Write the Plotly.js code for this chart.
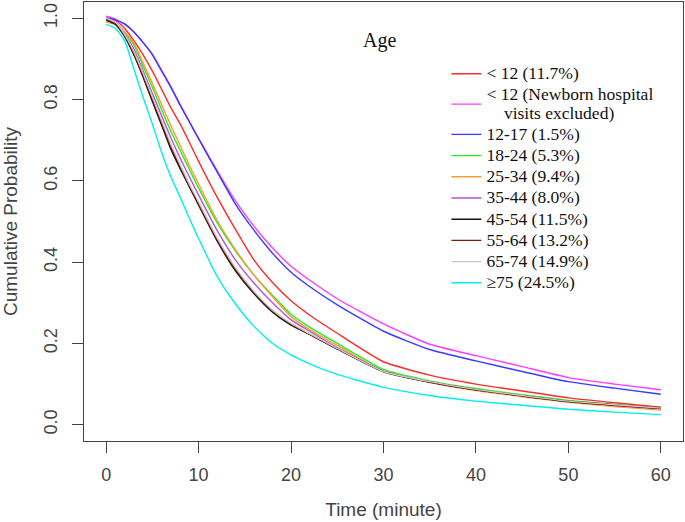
<!DOCTYPE html>
<html>
<head>
<meta charset="utf-8">
<script src="https://cdn.plot.ly/plotly-3.0.1.min.js"></script>
<style>
  html, body { margin: 0; padding: 0; background: #fff; }
  #chart { width: 685px; height: 522px; }
</style>
</head>
<body>
<div id="chart"></div>
<script>
const minutes = [0, 1, 2, 3, 4, 5, 6, 7, 8, 9, 10, 12, 14, 16, 18, 20, 22, 25, 30, 35, 40, 45, 50, 55, 60];

const under12 = [1.0, 0.995, 0.975, 0.945, 0.91, 0.87, 0.825, 0.78, 0.74, 0.695, 0.648, 0.56, 0.48, 0.405, 0.35, 0.305, 0.27, 0.225, 0.155, 0.122, 0.1, 0.083, 0.066, 0.054, 0.043];
const under12NoNewborn = [1.005, 0.998, 0.985, 0.966, 0.94, 0.912, 0.872, 0.832, 0.788, 0.746, 0.705, 0.625, 0.55, 0.488, 0.435, 0.39, 0.356, 0.31, 0.248, 0.198, 0.17, 0.143, 0.116, 0.1, 0.086];
const age12to17 = [1.0, 0.996, 0.986, 0.966, 0.94, 0.91, 0.87, 0.83, 0.786, 0.745, 0.703, 0.622, 0.542, 0.478, 0.422, 0.375, 0.34, 0.295, 0.23, 0.185, 0.157, 0.131, 0.106, 0.09, 0.075];
const age18to24 = [0.995, 0.99, 0.965, 0.935, 0.882, 0.83, 0.775, 0.722, 0.675, 0.628, 0.582, 0.497, 0.427, 0.368, 0.318, 0.272, 0.24, 0.2, 0.136, 0.108, 0.089, 0.074, 0.06, 0.05, 0.04];
const age25to34 = [0.99, 0.985, 0.966, 0.94, 0.89, 0.84, 0.787, 0.736, 0.687, 0.638, 0.592, 0.503, 0.43, 0.368, 0.315, 0.266, 0.234, 0.195, 0.131, 0.104, 0.084, 0.069, 0.055, 0.045, 0.036];
const age35to44 = [1.0, 0.99, 0.96, 0.925, 0.87, 0.815, 0.76, 0.706, 0.656, 0.61, 0.565, 0.478, 0.405, 0.348, 0.3, 0.258, 0.23, 0.19, 0.132, 0.105, 0.086, 0.071, 0.057, 0.048, 0.04];
const age45to54 = [0.995, 0.985, 0.955, 0.91, 0.855, 0.795, 0.737, 0.678, 0.63, 0.585, 0.54, 0.452, 0.378, 0.322, 0.277, 0.245, 0.222, 0.186, 0.13, 0.105, 0.086, 0.071, 0.057, 0.048, 0.04];
const age55to64 = [0.998, 0.987, 0.957, 0.913, 0.858, 0.8, 0.742, 0.684, 0.635, 0.588, 0.543, 0.455, 0.382, 0.325, 0.28, 0.248, 0.223, 0.187, 0.131, 0.105, 0.086, 0.071, 0.058, 0.049, 0.041];
const age65to74 = [1.0, 0.99, 0.96, 0.918, 0.864, 0.806, 0.748, 0.69, 0.64, 0.592, 0.548, 0.46, 0.386, 0.328, 0.282, 0.249, 0.224, 0.188, 0.131, 0.106, 0.087, 0.072, 0.058, 0.049, 0.041];
const age75plus = [0.985, 0.975, 0.945, 0.875, 0.805, 0.74, 0.67, 0.61, 0.56, 0.508, 0.458, 0.365, 0.297, 0.242, 0.2, 0.172, 0.15, 0.124, 0.092, 0.072, 0.058, 0.048, 0.038, 0.031, 0.025];

const groupNames = [
  "&lt; 12 (11.7%)",
  "&lt; 12 (Newborn hospital<br>\u00a0\u00a0\u00a0\u00a0visits excluded)",
  "12-17 (1.5%)",
  "18-24 (5.3%)",
  "25-34 (9.4%)",
  "35-44 (8.0%)",
  "45-54 (11.5%)",
  "55-64 (13.2%)",
  "65-74 (14.9%)",
  "\u226575 (24.5%)",
];
const groupValues = [under12, under12NoNewborn, age12to17, age18to24, age25to34, age35to44, age45to54, age55to64, age65to74, age75plus];
const groupColors = ["#ff2a2a", "#ff3cff", "#3a3aff", "#22ee22", "#ff9a33", "#b455d2", "#111111", "#7a1c12", "#c8c8c8", "#00f0f0"];

const xTicks = [0, 10, 20, 30, 40, 50, 60];
const yTicks = [0, 0.2, 0.4, 0.6, 0.8, 1.0];

function wrapLabel(name) {
  // bigger glyphs than the legend's own font, so rows stay tight like the original
  return name.split("<br>").map((s) => `<span style="font-size:17.5px">${s}</span>`).join("<br>");
}

const traces = groupValues.map((vals, i) => ({
  x: minutes,
  y: vals,
  type: "scatter",
  mode: "lines",
  name: wrapLabel(groupNames[i]),
  line: { color: groupColors[i], width: 1.4, shape: "spline", smoothing: 0.5 },
}));

const axisFont = { family: "Liberation Sans, Arial, sans-serif", size: 18, color: "#444" };

const layout = {
  width: 685,
  height: 522,
  margin: { l: 84, r: 2, t: 2, b: 81 },
  paper_bgcolor: "#fff",
  plot_bgcolor: "#fff",
  showlegend: true,
  legend: {
    x: 0.605, y: 0.872, xanchor: "left", yanchor: "top",
    bgcolor: "rgba(0,0,0,0)",
    font: { family: "Liberation Serif, Times New Roman, serif", size: 14, color: "#111" },
  },
  xaxis: {
    range: [-2.4, 62.4],
    tickvals: xTicks,
    ticktext: xTicks.map(String),
    ticks: "outside", ticklen: 11, tickcolor: "#444", tickwidth: 1,
    showline: true, mirror: true, linecolor: "#444", linewidth: 1,
    showgrid: false, zeroline: false,
    tickfont: axisFont,
    ticklabelstandoff: 6,
    title: { text: "Time (minute)", font: { ...axisFont, size: 19 }, standoff: 19 },
  },
  yaxis: {
    range: [-0.04, 1.04],
    tickvals: yTicks,
    ticktext: yTicks.map((v) => v.toFixed(1)),
    tickangle: -90,
    ticks: "outside", ticklen: 11, tickcolor: "#444", tickwidth: 1,
    showline: true, mirror: true, linecolor: "#444", linewidth: 1,
    showgrid: false, zeroline: false,
    tickfont: axisFont,
    ticklabelstandoff: 8,
    title: { text: "Cumulative Probability", font: { ...axisFont, size: 19 }, standoff: 18 },
  },
  annotations: [{
    text: "Age", xref: "paper", yref: "paper", x: 0.494, y: 0.943,
    showarrow: false, font: { family: "Liberation Serif, Times New Roman, serif", size: 20, color: "#111" },
  }],
};

Plotly.newPlot("chart", traces, layout, { displayModeBar: false, staticPlot: true });
</script>
</body>
</html>
